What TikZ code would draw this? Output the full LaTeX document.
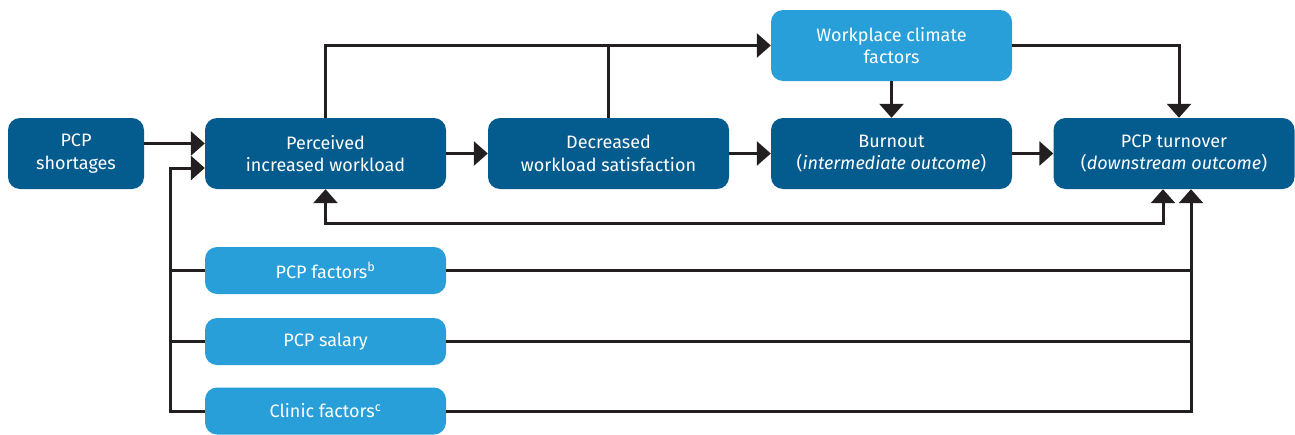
\documentclass[tikz,border=0pt]{standalone}
\usepackage{fontspec}
\setmainfont{Fira Sans}
\usetikzlibrary{arrows.meta}

\definecolor{darkblue}{HTML}{045B8E}
\definecolor{lightblue}{HTML}{289FD9}
\definecolor{linegray}{HTML}{231F20}

\begin{document}
\begin{tikzpicture}[x=1pt,y=-1pt,
	>={Triangle[width=24pt,length=14pt]},
	box/.style={rounded corners=12pt,text=white,align=center,inner sep=0pt,
		minimum height=71pt,font=\fontsize{18}{22.5}\selectfont},
	mainbox/.style={box,fill=darkblue,minimum width=241pt},
	factorbox/.style={box,fill=lightblue,minimum width=241pt,minimum height=47pt}]

\useasboundingbox (0,0) rectangle (1295,434);

\begin{scope}[every node/.style={mainbox}]
	%Row 1
	\node[minimum width=136pt] (shortages) at (76, 153.5) {PCP\\shortages};
	\node (perceived) at (325.5, 153.5) {Perceived\\increased workload};
	\node (decreased) at (608.5, 153.5) {Decreased\\workload satisfaction};
	\node (burnout) at (891.5, 153.5) {Burnout\\(\textit{intermediate outcome})};
	\node (turnover) at (1174, 153.5) {PCP turnover\\(\textit{downstream outcome})};
\end{scope}

\begin{scope}[every node/.style={factorbox}]
	%Top
	\node[minimum height=71pt] (climate) at (891.5, 45.5) {Workplace climate\\factors};
	
	%Factors
	\node (pcpfactors) at (325.5, 270.5) {PCP factors\textsuperscript{b}};
	\node (salary) at (325.5, 341.5) {PCP salary};
	\node (clinic) at (325.5, 411) {Clinic factors\textsuperscript{c}};
\end{scope}

\coordinate (lbus) at (170, 168);
\coordinate (rbus) at (1191, 300);
\coordinate (loop) at (1163, 223);

\begin{scope}[draw=linegray,line width=3pt]
	%Row 1
	\draw[->] ([yshift=10pt]shortages.east) -- ([yshift=10pt]perceived.west);
	\draw[->] (perceived) -- (decreased);
	\draw[->] (decreased) -- (burnout);
	\draw[->] (burnout) -- (turnover);
	
	%Top
	\draw[->] (perceived.north) |- (climate.west);
	\draw (decreased.north) -- (decreased.north |- climate.west);
	\draw[->] (climate) -- (burnout);
	\draw[->] (climate.east) -| ([xshift=5pt]turnover.north);
	
	%Loop
	\draw[<->] (perceived.south) |- (loop) -- (loop |- turnover.south);
	
	%Left bus
	\draw[->] (clinic.west) -| (lbus) -- (lbus -| perceived.west);
	\draw (pcpfactors.west) -- (pcpfactors.west -| lbus);
	\draw (salary.west) -- (salary.west -| lbus);
	
	%Right bus
	\draw[->] (clinic.east) -| (rbus) -- (rbus |- turnover.south);
	\draw (pcpfactors.east) -- (pcpfactors.east -| rbus);
	\draw (salary.east) -- (salary.east -| rbus);
\end{scope}

\end{tikzpicture}
\end{document}
